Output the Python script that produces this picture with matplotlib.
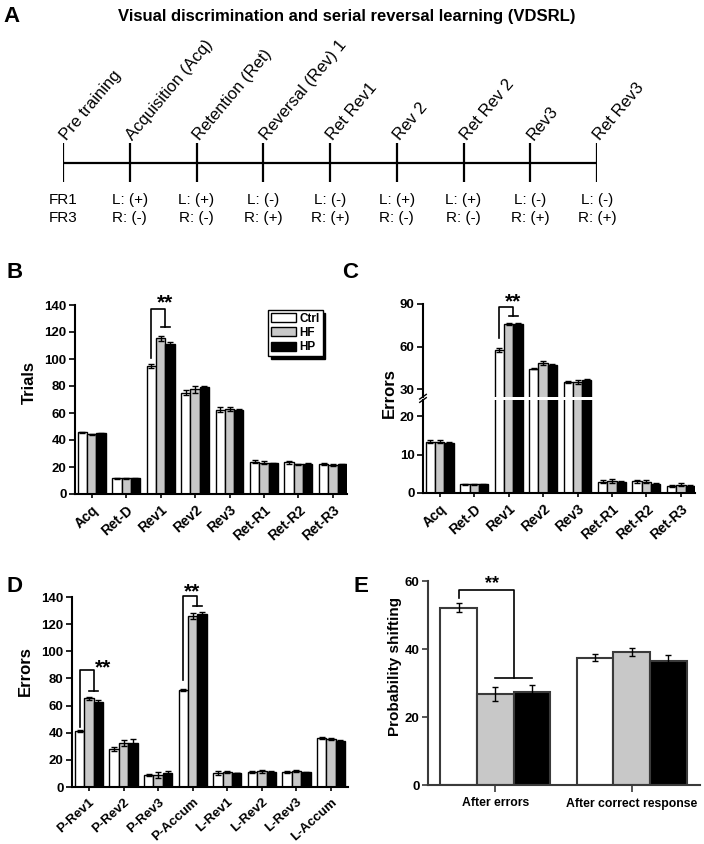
import numpy as np
import matplotlib.pyplot as plt
from matplotlib.patches import Patch

plt.rcParams["font.family"] = ["Liberation Sans", "DejaVu Sans"]

W, H = 704, 844

# ---- panel A: task timeline ----
stages = ["Pre training", "Acquisition (Acq)", "Retention (Ret)", "Reversal (Rev) 1",
          "Ret Rev1", "Rev 2", "Ret Rev 2", "Rev3", "Ret Rev3"]
fr1_row = ["FR1", "L: (+)", "L: (+)", "L: (-)", "L: (-)", "L: (+)", "L: (+)", "L: (-)", "L: (-)"]
fr3_row = ["FR3", "R: (-)", "R: (-)", "R: (+)", "R: (+)", "R: (-)", "R: (-)", "R: (+)", "R: (+)"]

groups = ["Ctrl", "HF", "HP"]
colors = ["white", "#c8c8c8", "black"]

# ---- panel B: trials ----
b_cats = ["Acq", "Ret-D", "Rev1", "Rev2", "Rev3", "Ret-R1", "Ret-R2", "Ret-R3"]
b_ctrl = [45.7, 11.8, 94.8, 75.0, 62.5, 23.9, 23.5, 22.2]
b_hf = [44.2, 11.7, 115.3, 77.5, 63.2, 23.2, 22.0, 21.4]
b_hp = [45.0, 11.7, 111.0, 79.0, 62.3, 22.7, 22.5, 22.0]
b_ctrl_err = [0.5, 0.4, 1.2, 2.0, 1.6, 1.0, 1.0, 0.6]
b_hf_err = [0.6, 0.3, 2.0, 2.5, 1.5, 1.2, 0.5, 0.5]
b_hp_err = [0.5, 0.3, 1.5, 1.0, 1.0, 0.5, 0.5, 0.4]

# ---- panel C: errors (broken axis) ----
c_cats = ["Acq", "Ret-D", "Rev1", "Rev2", "Rev3", "Ret-R1", "Ret-R2", "Ret-R3"]
c_ctrl = [13.4, 2.3, 57.6, 44.5, 35.3, 2.9, 3.0, 1.8]
c_hf = [13.4, 2.3, 75.7, 48.7, 35.3, 3.2, 2.9, 2.1]
c_hp = [12.9, 2.3, 76.1, 47.3, 36.5, 2.8, 2.4, 1.8]
c_ctrl_err = [0.4, 0.1, 1.5, 0.5, 0.6, 0.4, 0.3, 0.3]
c_hf_err = [0.4, 0.1, 0.8, 1.5, 1.3, 0.5, 0.4, 0.4]
c_hp_err = [0.3, 0.1, 0.5, 0.8, 1.0, 0.4, 0.3, 0.3]

# ---- panel D: perseverative / learning errors ----
d_cats = ["P-Rev1", "P-Rev2", "P-Rev3", "P-Accum", "L-Rev1", "L-Rev2", "L-Rev3", "L-Accum"]
d_ctrl = [41.5, 28.0, 8.8, 71.5, 10.1, 10.8, 10.8, 35.9]
d_hf = [65.3, 32.2, 9.0, 126.0, 10.9, 11.5, 11.6, 35.1]
d_hp = [62.8, 32.7, 10.5, 127.5, 10.3, 11.2, 11.0, 34.2]
d_ctrl_err = [0.8, 1.5, 1.0, 0.7, 1.5, 0.8, 0.8, 0.6]
d_hf_err = [1.0, 2.2, 2.0, 2.0, 0.8, 1.0, 0.6, 0.7]
d_hp_err = [1.5, 2.5, 1.0, 1.8, 0.3, 0.5, 0.4, 0.4]

# ---- panel E: probability of shifting ----
e_cats = ["After errors", "After correct response"]
e_ctrl = [52.2, 37.4]
e_hf = [26.7, 39.1]
e_hp = [27.3, 36.6]
e_ctrl_err = [1.3, 1.0]
e_hf_err = [2.1, 1.3]
e_hp_err = [2.0, 1.6]

fig = plt.figure(figsize=(W / 100, H / 100), dpi=100)


def px_axes(l, t, r, b):
    return fig.add_axes([l / W, 1 - b / H, (r - l) / W, (b - t) / H])


def px_text(x, y, s, **kw):
    fig.text(x / W, 1 - y / H, s, **kw)


def grouped_bars(ax, vals, errs, w, edge="black", lw=1.0, capsize=2.0):
    x = np.arange(len(vals[0]))
    for k in range(3):
        xs = x + (k - 1) * w
        ax.bar(xs, vals[k], w, color=colors[k], edgecolor=edge, linewidth=lw, zorder=2)
        ax.errorbar(xs, vals[k], yerr=errs[k], fmt="none", ecolor="black",
                    elinewidth=1.0, capsize=capsize, capthick=1.0, zorder=3)
    return x


def style_axes(ax, yticks, color="black", lw=1.5):
    for s in ["top", "right"]:
        ax.spines[s].set_visible(False)
    for s in ["left", "bottom"]:
        ax.spines[s].set_linewidth(lw)
        ax.spines[s].set_color(color)
    ax.set_yticks(yticks)
    ax.set_yticklabels([str(t) for t in yticks], fontsize=9.5, fontweight="bold")
    ax.tick_params(axis="y", length=4, width=1.2, pad=2, color=color)
    ax.tick_params(axis="x", length=3, width=1.2, color=color)


def cat_labels(ax, x, cats, fs=10):
    ax.set_xticks(x)
    ax.set_xticklabels(cats, rotation=42, ha="right", rotation_mode="anchor",
                       fontsize=fs, fontweight="bold")


def sig_bracket(ax, i, w, y0, y_top, y_t, star_dx=0, star_dy=0, fs=15):
    xl = i - w
    xr = i + w / 2
    ax.plot([xl, xl, xr, xr], [y0, y_top, y_top, y_t], color="black", lw=1.2,
            clip_on=False, zorder=4)
    ax.plot([i, i + w], [y_t, y_t], color="black", lw=1.2, clip_on=False, zorder=4)
    ax.annotate("**", xy=(xr, y_top), xytext=(star_dx, star_dy), textcoords="offset points",
                ha="center", va="baseline", fontsize=fs, fontweight="bold",
                annotation_clip=False)


# ---------------- panel A ----------------
px_text(12, 17, "A", fontsize=16, fontweight="bold", ha="center", va="center")
px_text(347, 17, "Visual discrimination and serial reversal learning (VDSRL)",
        fontsize=12, fontweight="bold", ha="center", va="center")

ax_a = px_axes(63, 0, 597, 240)
ax_a.set_xlim(0, len(stages) - 1)
ax_a.set_ylim(240, 0)
ax_a.axis("off")
xa = np.arange(len(stages))
ax_a.hlines(163, xa[0], xa[-1], color="black", lw=1.6)
ax_a.vlines(xa, 143, 182, color="black", lw=1.6)
for i, s in enumerate(stages):
    ax_a.annotate(s, xy=(i, 143), xytext=(4, 0), textcoords="offset points",
                  rotation=50, rotation_mode="anchor", ha="left", va="bottom",
                  fontsize=12)
    ax_a.text(i, 200, fr1_row[i], ha="center", va="center", fontsize=11)
    ax_a.text(i, 218, fr3_row[i], ha="center", va="center", fontsize=11)

# ---------------- panel B ----------------
px_text(15, 273, "B", fontsize=16, fontweight="bold", ha="center", va="center")
ax_b = px_axes(75, 305, 347, 494)
wb = 0.27
xb = grouped_bars(ax_b, [b_ctrl, b_hf, b_hp], [b_ctrl_err, b_hf_err, b_hp_err], wb)
ax_b.set_xlim(-0.485, 7.41)
ax_b.set_ylim(0, 140)
style_axes(ax_b, [0, 20, 40, 60, 80, 100, 120, 140])
cat_labels(ax_b, xb, b_cats)
ax_b.set_ylabel("Trials", fontsize=12, fontweight="bold")
ax_b.yaxis.set_label_coords(-0.14, 0.59)
sig_bracket(ax_b, 2, wb, 100.5, 136.8, 124, star_dy=0.5)
handles = [Patch(facecolor=c, edgecolor="black", linewidth=1.0) for c in colors]
leg = ax_b.legend(handles, groups, loc="upper right", bbox_to_anchor=(0.91, 0.975),
                  frameon=True, fancybox=False, framealpha=1, edgecolor="black",
                  shadow={"color": "black", "alpha": 1},
                  prop={"weight": "bold", "size": 8.5}, handlelength=2.1,
                  handleheight=0.8, labelspacing=0.2, borderpad=0.25,
                  handletextpad=0.3, borderaxespad=0)
leg.get_frame().set_linewidth(1.0)

# ---------------- panel C ----------------
px_text(350, 273, "C", fontsize=16, fontweight="bold", ha="center", va="center")
ax_c_hi = px_axes(423, 304, 695, 396.7)
ax_c_lo = px_axes(423, 400, 695, 493)
wc = 0.27
for ax in (ax_c_hi, ax_c_lo):
    xc = grouped_bars(ax, [c_ctrl, c_hf, c_hp], [c_ctrl_err, c_hf_err, c_hp_err], wc)
    ax.set_xlim(-0.485, 7.41)
ax_c_hi.set_ylim(24.8, 90)
ax_c_lo.set_ylim(0, 24.2)
style_axes(ax_c_hi, [30, 60, 90])
style_axes(ax_c_lo, [0, 10, 20])
ax_c_hi.spines["bottom"].set_visible(False)
ax_c_hi.set_xticks([])
cat_labels(ax_c_lo, xc, c_cats)
px_text(389, 393, "Errors", fontsize=12, fontweight="bold", rotation=90,
        ha="center", va="center")
# break marks on the y axis
for ax, yy in ((ax_c_hi, 0.0), (ax_c_lo, 1.0)):
    ax.plot([-0.012, 0.012], [yy - 0.025, yy + 0.025], transform=ax.transAxes,
            color="black", lw=1.0, clip_on=False)
sig_bracket(ax_c_hi, 2, wc, 65.9, 88, 81.5, star_dy=-0.5)

# ---------------- panel D ----------------
px_text(15, 587, "D", fontsize=16, fontweight="bold", ha="center", va="center")
ax_d = px_axes(72, 597, 348, 787)
wd = 0.273
xd = grouped_bars(ax_d, [d_ctrl, d_hf, d_hp], [d_ctrl_err, d_hf_err, d_hp_err], wd)
ax_d.set_xlim(-0.49, 7.49)
ax_d.set_ylim(0, 140)
style_axes(ax_d, [0, 20, 40, 60, 80, 100, 120, 140])
cat_labels(ax_d, xd, d_cats, fs=9.5)
ax_d.set_ylabel("Errors", fontsize=12, fontweight="bold")
ax_d.yaxis.set_label_coords(-0.14, 0.61)
sig_bracket(ax_d, 0, wd, 44, 86.2, 71, star_dx=7, star_dy=-2.5)
sig_bracket(ax_d, 3, wd, 79, 140.7, 133.4, star_dx=-3.6, star_dy=-1)

# ---------------- panel E ----------------
px_text(361, 587, "E", fontsize=16, fontweight="bold", ha="center", va="center")
ax_e = px_axes(428, 581, 700, 785)
we = 0.269
xe = grouped_bars(ax_e, [e_ctrl, e_hf, e_hp], [e_ctrl_err, e_hf_err, e_hp_err], we,
                  edge="#3a3a3a", lw=1.5, capsize=2.5)
ax_e.set_xlim(-0.494, 1.502)
ax_e.set_ylim(0, 60)
style_axes(ax_e, [0, 20, 40, 60], color="#3a3a3a")
ax_e.set_xticks(xe)
ax_e.set_xticklabels(e_cats, fontsize=8.8, fontweight="bold")
ax_e.tick_params(axis="x", length=5, pad=4)
ax_e.set_ylabel("Probability shifting", fontsize=11, fontweight="bold")
ax_e.yaxis.set_label_coords(-0.095, 0.58)
sig_bracket(ax_e, 0, we, 54.9, 57.4, 31.4, star_dx=-15.8, star_dy=1, fs=13)

fig.savefig("out.png", dpi=100)
